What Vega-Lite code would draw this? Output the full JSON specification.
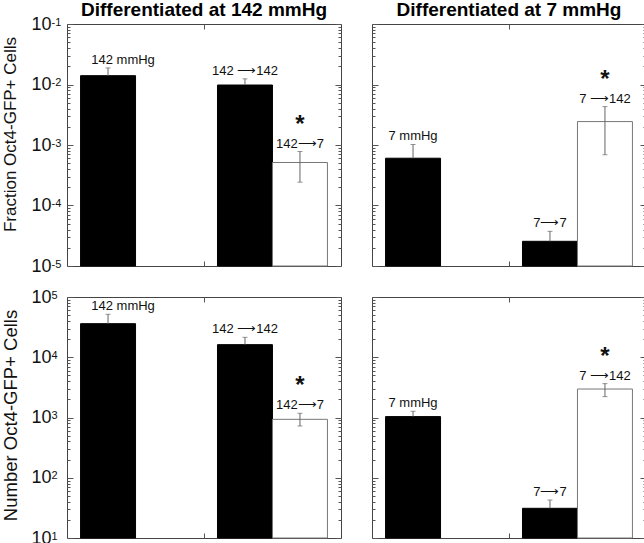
{
  "$schema": "https://vega.github.io/schema/vega-lite/v6.json",
  "padding": 0,
  "background": "white",
  "datasets": {
    "d": [
      {"p": "fL", "grp": "pre", "cond": "same", "v": 0.014, "lo": 0.014, "hi": 0.0188, "lab": "142 mmHg", "star": ""},
      {"p": "fL", "grp": "post", "cond": "same", "v": 0.0098, "lo": 0.0098, "hi": 0.0124, "lab": "142 ⟶142", "star": ""},
      {"p": "fL", "grp": "post", "cond": "switch", "v": 0.000514, "lo": 0.000243, "hi": 0.00078, "lab": "142⟶7", "star": "*"},
      {"p": "fR", "grp": "pre", "cond": "same", "v": 0.000605, "lo": 0.000605, "hi": 0.00102, "lab": "7 mmHg", "star": ""},
      {"p": "fR", "grp": "post", "cond": "same", "v": 0.0000256, "lo": 0.0000256, "hi": 0.0000374, "lab": "7⟶7", "star": ""},
      {"p": "fR", "grp": "post", "cond": "switch", "v": 0.00244, "lo": 0.00069, "hi": 0.00431, "lab": "7 ⟶142", "star": "*"},
      {"p": "nL", "grp": "pre", "cond": "same", "v": 36100, "lo": 36100, "hi": 51600, "lab": "142 mmHg", "star": ""},
      {"p": "nL", "grp": "post", "cond": "same", "v": 16200, "lo": 16200, "hi": 21400, "lab": "142 ⟶142", "star": ""},
      {"p": "nL", "grp": "post", "cond": "switch", "v": 933, "lo": 723, "hi": 1175, "lab": "142⟶7", "star": "*"},
      {"p": "nR", "grp": "pre", "cond": "same", "v": 1035, "lo": 1035, "hi": 1268, "lab": "7 mmHg", "star": ""},
      {"p": "nR", "grp": "post", "cond": "same", "v": 31.1, "lo": 31.1, "hi": 42.7, "lab": "7⟶7", "star": ""},
      {"p": "nR", "grp": "post", "cond": "switch", "v": 2970, "lo": 2220, "hi": 3650, "lab": "7 ⟶142", "star": "*"}
    ]
  },
  "vconcat": [
    {
      "hconcat": [
        {
          "width": 274, "height": 242,
          "title": {"text": "Differentiated at 142 mmHg"},
          "data": {"name": "d"},
          "transform": [{"filter": "datum.p == 'fL'"}],
          "resolve": {"axis": {"x": "independent", "y": "independent"}},
          "layer": [
            {
              "mark": {"type": "bar", "strokeWidth": 1},
              "encoding": {
                "x": {"field": "grp", "type": "nominal", "scale": {"domain": ["pre", "post"], "paddingInner": 0.197, "paddingOuter": 0.099},
                      "axis": {"orient": "bottom", "values": ["pre"], "bandPosition": 1, "tickOffset": 13.5, "tickSize": -5, "labels": false, "domain": false, "title": null}},
                "xOffset": {"field": "cond", "type": "nominal", "scale": {"domain": ["same", "switch"], "paddingInner": 0, "paddingOuter": 0}},
                "y": {"field": "v", "type": "quantitative", "scale": {"type": "log", "domain": [0.00001, 0.1], "nice": false},
                      "axis": {"orient": "left", "values": [0.00001, 0.0001, 0.001, 0.01, 0.1], "labelExpr": "'10'", "ticks": false, "domain": false, "labelPadding": 16, "labelFontSize": 18, "labelOverlap": false, "title": "Fraction Oct4-GFP+ Cells", "titleFontSize": 17, "titleFontWeight": "normal", "titleAngle": -90, "titleBaseline": "alphabetic", "titleAlign": "center", "titleX": -52, "titleY": 110}},
                "y2": {"datum": 0.00001},
                "fill": {"field": "cond", "type": "nominal", "scale": {"domain": ["same", "switch"], "range": ["#000000", "#ffffff"]}, "legend": null},
                "stroke": {"field": "cond", "type": "nominal", "scale": {"domain": ["same", "switch"], "range": ["#000000", "#777777"]}, "legend": null}
              }
            },
            {
              "mark": {"type": "rule", "color": "#666666", "strokeWidth": 1},
              "encoding": {
                "x": {"field": "grp", "type": "nominal", "scale": {"domain": ["pre", "post"], "paddingInner": 0.197, "paddingOuter": 0.099},
                      "axis": {"orient": "top", "values": ["pre"], "bandPosition": 1, "tickOffset": 13.5, "tickSize": -5, "labels": false, "domain": false, "title": null}},
                "xOffset": {"field": "cond", "type": "nominal", "scale": {"domain": ["same", "switch"], "paddingInner": 0, "paddingOuter": 0}},
                "y": {"field": "lo", "type": "quantitative", "scale": {"type": "log", "domain": [0.00001, 0.1], "nice": false},
                      "axis": {"orient": "left", "values": [0.00001, 0.0001, 0.001, 0.01, 0.1], "labelExpr": "'' + round(log(datum.value) / LN10)", "ticks": false, "domain": false, "labelAlign": "left", "labelBaseline": "top", "labelOffset": -8, "labelPadding": 16, "labelFontSize": 11, "labelOverlap": false, "title": null}},
                "y2": {"field": "hi"}
              }
            },
            {
              "mark": {"type": "tick", "color": "#666666", "size": 5, "thickness": 1},
              "encoding": {
                "x": {"field": "grp", "type": "nominal", "axis": null},
                "xOffset": {"field": "cond", "type": "nominal"},
                "y": {"field": "hi", "type": "quantitative", "scale": {"type": "log", "domain": [0.00001, 0.1], "nice": false},
                      "axis": {"orient": "left", "values": [0.00001, 0.0001, 0.001, 0.01, 0.1], "labels": false, "domain": false, "tickSize": -6, "title": null}}
              }
            },
            {
              "transform": [{"filter": "datum.cond == 'switch'"}],
              "mark": {"type": "tick", "color": "#666666", "size": 5, "thickness": 1},
              "encoding": {
                "x": {"field": "grp", "type": "nominal", "axis": null},
                "xOffset": {"field": "cond", "type": "nominal"},
                "y": {"field": "lo", "type": "quantitative", "scale": {"type": "log", "domain": [0.00001, 0.1], "nice": false},
                      "axis": {"orient": "left", "values": [0.00002, 0.00003, 0.00004, 0.00005, 0.00006, 0.00007, 0.00008, 0.00009, 0.0002, 0.0003, 0.0004, 0.0005, 0.0006, 0.0007, 0.0008, 0.0009, 0.002, 0.003, 0.004, 0.005, 0.006, 0.007, 0.008, 0.009, 0.02, 0.03, 0.04, 0.05, 0.06, 0.07, 0.08, 0.09], "labels": false, "domain": false, "tickSize": -3, "title": null}}
              }
            },
            {
              "mark": {"type": "text", "fontSize": 13, "baseline": "alphabetic", "dy": -4, "dx": {"expr": "datum.lab == '142 mmHg' ? 15 : 0"}},
              "encoding": {
                "x": {"field": "grp", "type": "nominal", "axis": null},
                "xOffset": {"field": "cond", "type": "nominal"},
                "y": {"field": "hi", "type": "quantitative", "scale": {"type": "log", "domain": [0.00001, 0.1], "nice": false},
                      "axis": {"orient": "right", "values": [0.00001, 0.0001, 0.001, 0.01, 0.1], "labels": false, "domain": false, "tickSize": -6, "title": null}},
                "text": {"field": "lab"}
              }
            },
            {
              "transform": [{"filter": "datum.star == '*'"}],
              "mark": {"type": "text", "fontSize": 24, "fontWeight": "bold", "baseline": "alphabetic", "dy": -20},
              "encoding": {
                "x": {"field": "grp", "type": "nominal", "axis": null},
                "xOffset": {"field": "cond", "type": "nominal"},
                "y": {"field": "hi", "type": "quantitative", "scale": {"type": "log", "domain": [0.00001, 0.1], "nice": false},
                      "axis": {"orient": "right", "values": [0.00002, 0.00003, 0.00004, 0.00005, 0.00006, 0.00007, 0.00008, 0.00009, 0.0002, 0.0003, 0.0004, 0.0005, 0.0006, 0.0007, 0.0008, 0.0009, 0.002, 0.003, 0.004, 0.005, 0.006, 0.007, 0.008, 0.009, 0.02, 0.03, 0.04, 0.05, 0.06, 0.07, 0.08, 0.09], "labels": false, "domain": false, "tickSize": -3, "title": null}},
                "text": {"field": "star"}
              }
            }
          ]
        },
        {
          "width": 274, "height": 242,
          "title": {"text": "Differentiated at 7 mmHg", "dy": -9},
          "data": {"name": "d"},
          "transform": [{"filter": "datum.p == 'fR'"}],
          "resolve": {"axis": {"x": "independent", "y": "independent"}},
          "layer": [
            {
              "mark": {"type": "bar", "strokeWidth": 1},
              "encoding": {
                "x": {"field": "grp", "type": "nominal", "scale": {"domain": ["pre", "post"], "paddingInner": 0.197, "paddingOuter": 0.099},
                      "axis": {"orient": "bottom", "values": ["pre"], "bandPosition": 1, "tickOffset": 13.5, "tickSize": -5, "labels": false, "domain": false, "title": null}},
                "xOffset": {"field": "cond", "type": "nominal", "scale": {"domain": ["same", "switch"], "paddingInner": 0, "paddingOuter": 0}},
                "y": {"field": "v", "type": "quantitative", "scale": {"type": "log", "domain": [0.00001, 0.1], "nice": false},
                      "axis": {"orient": "left", "values": [0.00001, 0.0001, 0.001, 0.01, 0.1], "labels": false, "domain": false, "tickSize": -6, "title": null}},
                "y2": {"datum": 0.00001},
                "fill": {"field": "cond", "type": "nominal", "scale": {"domain": ["same", "switch"], "range": ["#000000", "#ffffff"]}, "legend": null},
                "stroke": {"field": "cond", "type": "nominal", "scale": {"domain": ["same", "switch"], "range": ["#000000", "#777777"]}, "legend": null}
              }
            },
            {
              "mark": {"type": "rule", "color": "#666666", "strokeWidth": 1},
              "encoding": {
                "x": {"field": "grp", "type": "nominal", "scale": {"domain": ["pre", "post"], "paddingInner": 0.197, "paddingOuter": 0.099},
                      "axis": {"orient": "top", "values": ["pre"], "bandPosition": 1, "tickOffset": 13.5, "tickSize": -5, "labels": false, "domain": false, "title": null}},
                "xOffset": {"field": "cond", "type": "nominal", "scale": {"domain": ["same", "switch"], "paddingInner": 0, "paddingOuter": 0}},
                "y": {"field": "lo", "type": "quantitative", "scale": {"type": "log", "domain": [0.00001, 0.1], "nice": false},
                      "axis": {"orient": "left", "values": [0.00002, 0.00003, 0.00004, 0.00005, 0.00006, 0.00007, 0.00008, 0.00009, 0.0002, 0.0003, 0.0004, 0.0005, 0.0006, 0.0007, 0.0008, 0.0009, 0.002, 0.003, 0.004, 0.005, 0.006, 0.007, 0.008, 0.009, 0.02, 0.03, 0.04, 0.05, 0.06, 0.07, 0.08, 0.09], "labels": false, "domain": false, "tickSize": -3, "title": null}},
                "y2": {"field": "hi"}
              }
            },
            {
              "mark": {"type": "tick", "color": "#666666", "size": 5, "thickness": 1},
              "encoding": {
                "x": {"field": "grp", "type": "nominal", "axis": null},
                "xOffset": {"field": "cond", "type": "nominal"},
                "y": {"field": "hi", "type": "quantitative", "scale": {"type": "log", "domain": [0.00001, 0.1], "nice": false},
                      "axis": {"orient": "right", "values": [0.00001, 0.0001, 0.001, 0.01, 0.1], "labels": false, "domain": false, "tickSize": -6, "title": null}}
              }
            },
            {
              "transform": [{"filter": "datum.cond == 'switch'"}],
              "mark": {"type": "tick", "color": "#666666", "size": 5, "thickness": 1},
              "encoding": {
                "x": {"field": "grp", "type": "nominal", "axis": null},
                "xOffset": {"field": "cond", "type": "nominal"},
                "y": {"field": "lo", "type": "quantitative", "scale": {"type": "log", "domain": [0.00001, 0.1], "nice": false},
                      "axis": {"orient": "right", "values": [0.00002, 0.00003, 0.00004, 0.00005, 0.00006, 0.00007, 0.00008, 0.00009, 0.0002, 0.0003, 0.0004, 0.0005, 0.0006, 0.0007, 0.0008, 0.0009, 0.002, 0.003, 0.004, 0.005, 0.006, 0.007, 0.008, 0.009, 0.02, 0.03, 0.04, 0.05, 0.06, 0.07, 0.08, 0.09], "labels": false, "domain": false, "tickSize": -3, "title": null}}
              }
            },
            {
              "mark": {"type": "text", "fontSize": 13, "baseline": "alphabetic", "dy": -4},
              "encoding": {
                "x": {"field": "grp", "type": "nominal", "axis": null},
                "xOffset": {"field": "cond", "type": "nominal"},
                "y": {"field": "hi", "type": "quantitative", "scale": {"type": "log", "domain": [0.00001, 0.1], "nice": false}, "axis": null},
                "text": {"field": "lab"}
              }
            },
            {
              "transform": [{"filter": "datum.star == '*'"}],
              "mark": {"type": "text", "fontSize": 24, "fontWeight": "bold", "baseline": "alphabetic", "dy": -20},
              "encoding": {
                "x": {"field": "grp", "type": "nominal", "axis": null},
                "xOffset": {"field": "cond", "type": "nominal"},
                "y": {"field": "hi", "type": "quantitative", "scale": {"type": "log", "domain": [0.00001, 0.1], "nice": false}, "axis": null},
                "text": {"field": "star"}
              }
            }
          ]
        }
      ]
    },
    {
      "hconcat": [
        {
          "width": 274, "height": 241,
          "data": {"name": "d"},
          "transform": [{"filter": "datum.p == 'nL'"}],
          "resolve": {"axis": {"x": "independent", "y": "independent"}},
          "layer": [
            {
              "mark": {"type": "bar", "strokeWidth": 1},
              "encoding": {
                "x": {"field": "grp", "type": "nominal", "scale": {"domain": ["pre", "post"], "paddingInner": 0.197, "paddingOuter": 0.099},
                      "axis": {"orient": "bottom", "values": ["pre"], "bandPosition": 1, "tickOffset": 13.5, "tickSize": -5, "labels": false, "domain": false, "title": null}},
                "xOffset": {"field": "cond", "type": "nominal", "scale": {"domain": ["same", "switch"], "paddingInner": 0, "paddingOuter": 0}},
                "y": {"field": "v", "type": "quantitative", "scale": {"type": "log", "domain": [10, 100000], "nice": false},
                      "axis": {"orient": "left", "values": [10, 100, 1000, 10000, 100000], "labelExpr": "'10'", "ticks": false, "domain": false, "labelPadding": 16, "labelFontSize": 18, "labelOverlap": false, "title": "Number Oct4-GFP+ Cells", "titleFontSize": 18.5, "titleFontWeight": "normal", "titleAngle": -90, "titleBaseline": "alphabetic", "titleAlign": "center", "titleX": -51, "titleY": 118}},
                "y2": {"datum": 10},
                "fill": {"field": "cond", "type": "nominal", "scale": {"domain": ["same", "switch"], "range": ["#000000", "#ffffff"]}, "legend": null},
                "stroke": {"field": "cond", "type": "nominal", "scale": {"domain": ["same", "switch"], "range": ["#000000", "#777777"]}, "legend": null}
              }
            },
            {
              "mark": {"type": "rule", "color": "#666666", "strokeWidth": 1},
              "encoding": {
                "x": {"field": "grp", "type": "nominal", "scale": {"domain": ["pre", "post"], "paddingInner": 0.197, "paddingOuter": 0.099},
                      "axis": {"orient": "top", "values": ["pre"], "bandPosition": 1, "tickOffset": 13.5, "tickSize": -5, "labels": false, "domain": false, "title": null}},
                "xOffset": {"field": "cond", "type": "nominal", "scale": {"domain": ["same", "switch"], "paddingInner": 0, "paddingOuter": 0}},
                "y": {"field": "lo", "type": "quantitative", "scale": {"type": "log", "domain": [10, 100000], "nice": false},
                      "axis": {"orient": "left", "values": [10, 100, 1000, 10000, 100000], "labelExpr": "'' + round(log(datum.value) / LN10)", "ticks": false, "domain": false, "labelAlign": "left", "labelBaseline": "top", "labelOffset": -8, "labelPadding": 16, "labelFontSize": 11, "labelOverlap": false, "title": null}},
                "y2": {"field": "hi"}
              }
            },
            {
              "mark": {"type": "tick", "color": "#666666", "size": 5, "thickness": 1},
              "encoding": {
                "x": {"field": "grp", "type": "nominal", "axis": null},
                "xOffset": {"field": "cond", "type": "nominal"},
                "y": {"field": "hi", "type": "quantitative", "scale": {"type": "log", "domain": [10, 100000], "nice": false},
                      "axis": {"orient": "left", "values": [10, 100, 1000, 10000, 100000], "labels": false, "domain": false, "tickSize": -6, "title": null}}
              }
            },
            {
              "transform": [{"filter": "datum.cond == 'switch'"}],
              "mark": {"type": "tick", "color": "#666666", "size": 5, "thickness": 1},
              "encoding": {
                "x": {"field": "grp", "type": "nominal", "axis": null},
                "xOffset": {"field": "cond", "type": "nominal"},
                "y": {"field": "lo", "type": "quantitative", "scale": {"type": "log", "domain": [10, 100000], "nice": false},
                      "axis": {"orient": "left", "values": [20, 30, 40, 50, 60, 70, 80, 90, 200, 300, 400, 500, 600, 700, 800, 900, 2000, 3000, 4000, 5000, 6000, 7000, 8000, 9000, 20000, 30000, 40000, 50000, 60000, 70000, 80000, 90000], "labels": false, "domain": false, "tickSize": -3, "title": null}}
              }
            },
            {
              "mark": {"type": "text", "fontSize": 13, "baseline": "alphabetic", "dy": -4, "dx": {"expr": "datum.lab == '142 mmHg' ? 15 : 0"}},
              "encoding": {
                "x": {"field": "grp", "type": "nominal", "axis": null},
                "xOffset": {"field": "cond", "type": "nominal"},
                "y": {"field": "hi", "type": "quantitative", "scale": {"type": "log", "domain": [10, 100000], "nice": false},
                      "axis": {"orient": "right", "values": [10, 100, 1000, 10000, 100000], "labels": false, "domain": false, "tickSize": -6, "title": null}},
                "text": {"field": "lab"}
              }
            },
            {
              "transform": [{"filter": "datum.star == '*'"}],
              "mark": {"type": "text", "fontSize": 24, "fontWeight": "bold", "baseline": "alphabetic", "dy": -20},
              "encoding": {
                "x": {"field": "grp", "type": "nominal", "axis": null},
                "xOffset": {"field": "cond", "type": "nominal"},
                "y": {"field": "hi", "type": "quantitative", "scale": {"type": "log", "domain": [10, 100000], "nice": false},
                      "axis": {"orient": "right", "values": [20, 30, 40, 50, 60, 70, 80, 90, 200, 300, 400, 500, 600, 700, 800, 900, 2000, 3000, 4000, 5000, 6000, 7000, 8000, 9000, 20000, 30000, 40000, 50000, 60000, 70000, 80000, 90000], "labels": false, "domain": false, "tickSize": -3, "title": null}},
                "text": {"field": "star"}
              }
            }
          ]
        },
        {
          "width": 274, "height": 241,
          "data": {"name": "d"},
          "transform": [{"filter": "datum.p == 'nR'"}],
          "resolve": {"axis": {"x": "independent", "y": "independent"}},
          "layer": [
            {
              "mark": {"type": "bar", "strokeWidth": 1},
              "encoding": {
                "x": {"field": "grp", "type": "nominal", "scale": {"domain": ["pre", "post"], "paddingInner": 0.197, "paddingOuter": 0.099},
                      "axis": {"orient": "bottom", "values": ["pre"], "bandPosition": 1, "tickOffset": 13.5, "tickSize": -5, "labels": false, "domain": false, "title": null}},
                "xOffset": {"field": "cond", "type": "nominal", "scale": {"domain": ["same", "switch"], "paddingInner": 0, "paddingOuter": 0}},
                "y": {"field": "v", "type": "quantitative", "scale": {"type": "log", "domain": [10, 100000], "nice": false},
                      "axis": {"orient": "left", "values": [10, 100, 1000, 10000, 100000], "labels": false, "domain": false, "tickSize": -6, "title": null}},
                "y2": {"datum": 10},
                "fill": {"field": "cond", "type": "nominal", "scale": {"domain": ["same", "switch"], "range": ["#000000", "#ffffff"]}, "legend": null},
                "stroke": {"field": "cond", "type": "nominal", "scale": {"domain": ["same", "switch"], "range": ["#000000", "#777777"]}, "legend": null}
              }
            },
            {
              "mark": {"type": "rule", "color": "#666666", "strokeWidth": 1},
              "encoding": {
                "x": {"field": "grp", "type": "nominal", "scale": {"domain": ["pre", "post"], "paddingInner": 0.197, "paddingOuter": 0.099},
                      "axis": {"orient": "top", "values": ["pre"], "bandPosition": 1, "tickOffset": 13.5, "tickSize": -5, "labels": false, "domain": false, "title": null}},
                "xOffset": {"field": "cond", "type": "nominal", "scale": {"domain": ["same", "switch"], "paddingInner": 0, "paddingOuter": 0}},
                "y": {"field": "lo", "type": "quantitative", "scale": {"type": "log", "domain": [10, 100000], "nice": false},
                      "axis": {"orient": "left", "values": [20, 30, 40, 50, 60, 70, 80, 90, 200, 300, 400, 500, 600, 700, 800, 900, 2000, 3000, 4000, 5000, 6000, 7000, 8000, 9000, 20000, 30000, 40000, 50000, 60000, 70000, 80000, 90000], "labels": false, "domain": false, "tickSize": -3, "title": null}},
                "y2": {"field": "hi"}
              }
            },
            {
              "mark": {"type": "tick", "color": "#666666", "size": 5, "thickness": 1},
              "encoding": {
                "x": {"field": "grp", "type": "nominal", "axis": null},
                "xOffset": {"field": "cond", "type": "nominal"},
                "y": {"field": "hi", "type": "quantitative", "scale": {"type": "log", "domain": [10, 100000], "nice": false},
                      "axis": {"orient": "right", "values": [10, 100, 1000, 10000, 100000], "labels": false, "domain": false, "tickSize": -6, "title": null}}
              }
            },
            {
              "transform": [{"filter": "datum.cond == 'switch'"}],
              "mark": {"type": "tick", "color": "#666666", "size": 5, "thickness": 1},
              "encoding": {
                "x": {"field": "grp", "type": "nominal", "axis": null},
                "xOffset": {"field": "cond", "type": "nominal"},
                "y": {"field": "lo", "type": "quantitative", "scale": {"type": "log", "domain": [10, 100000], "nice": false},
                      "axis": {"orient": "right", "values": [20, 30, 40, 50, 60, 70, 80, 90, 200, 300, 400, 500, 600, 700, 800, 900, 2000, 3000, 4000, 5000, 6000, 7000, 8000, 9000, 20000, 30000, 40000, 50000, 60000, 70000, 80000, 90000], "labels": false, "domain": false, "tickSize": -3, "title": null}}
              }
            },
            {
              "mark": {"type": "text", "fontSize": 13, "baseline": "alphabetic", "dy": -4},
              "encoding": {
                "x": {"field": "grp", "type": "nominal", "axis": null},
                "xOffset": {"field": "cond", "type": "nominal"},
                "y": {"field": "hi", "type": "quantitative", "scale": {"type": "log", "domain": [10, 100000], "nice": false}, "axis": null},
                "text": {"field": "lab"}
              }
            },
            {
              "transform": [{"filter": "datum.star == '*'"}],
              "mark": {"type": "text", "fontSize": 24, "fontWeight": "bold", "baseline": "alphabetic", "dy": -20},
              "encoding": {
                "x": {"field": "grp", "type": "nominal", "axis": null},
                "xOffset": {"field": "cond", "type": "nominal"},
                "y": {"field": "hi", "type": "quantitative", "scale": {"type": "log", "domain": [10, 100000], "nice": false}, "axis": null},
                "text": {"field": "star"}
              }
            }
          ]
        }
      ],
      "spacing": 29
    }
  ],
  "spacing": 11,
  "config": {
    "font": "Liberation Sans",
    "concat": {"spacing": 29},
    "view": {"stroke": "#444444", "strokeWidth": 1},
    "axis": {"tickColor": "#555555", "tickWidth": 1, "labelColor": "#111111", "titleColor": "#111111", "grid": false, "domain": false, "labelFont": "Liberation Sans", "titleFont": "Liberation Sans", "labelOverlap": false, "minExtent": 0},
    "title": {"font": "Liberation Sans", "fontSize": 19, "fontWeight": "bold", "color": "#000000", "anchor": "middle", "frame": "group", "baseline": "alphabetic", "offset": -5},
    "text": {"font": "Liberation Sans", "color": "#111111"}
  }
}
